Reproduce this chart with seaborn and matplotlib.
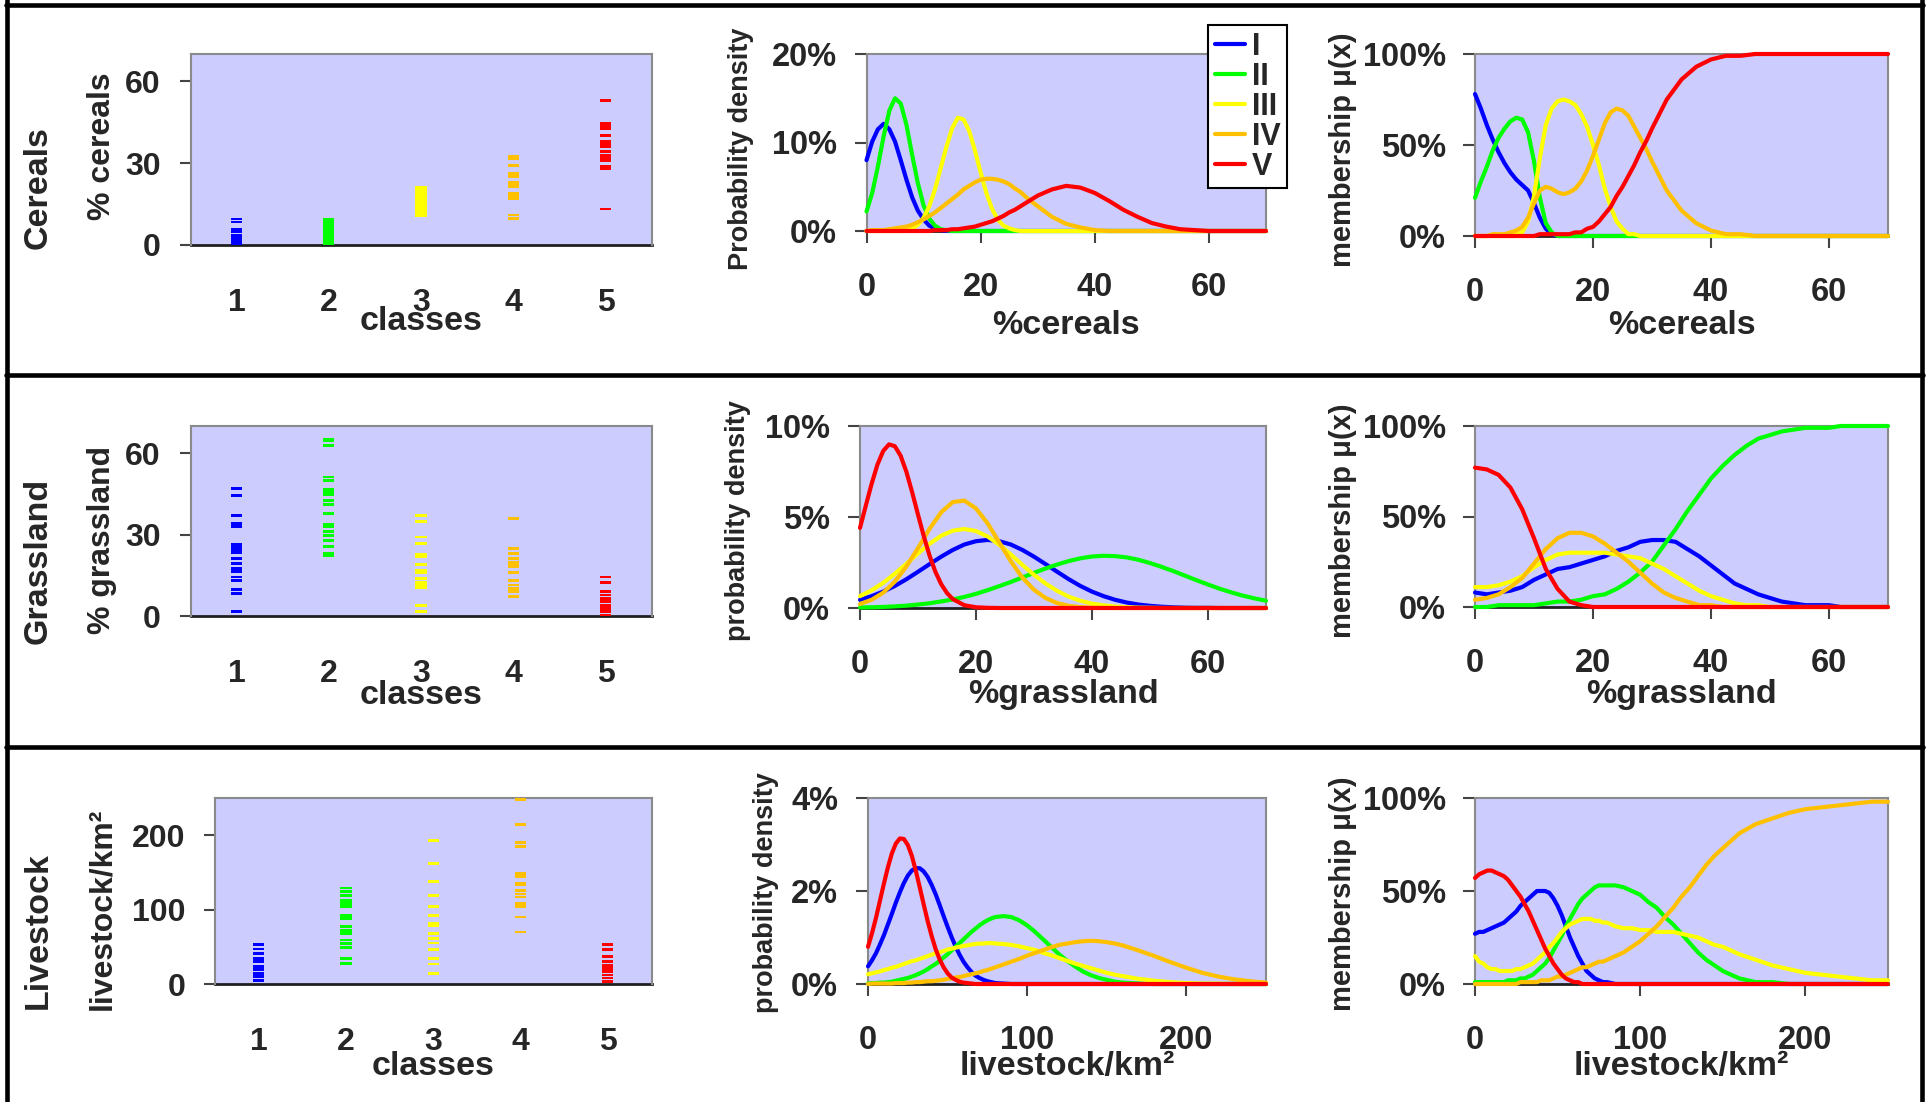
import pandas as pd
import matplotlib
matplotlib.use("Agg")
import matplotlib.pyplot as plt
import matplotlib.transforms as mtransforms
from matplotlib.lines import Line2D
from matplotlib.ticker import FuncFormatter
import seaborn as sns

sns.set_theme(style="ticks")
plt.rcParams['font.family'] = ['Liberation Sans', 'DejaVu Sans']
plt.rcParams['font.weight'] = 'bold'

W, H = 1927, 1102

# ------------------------------------------------------------------ data
class_names = ['I', 'II', 'III', 'IV', 'V']
class_ticks = ['1', '2', '3', '4', '5']
colors = ['#0000ff', '#00ff00', '#ffff00', '#ffc000', '#ff0000']

# raw observations per class (strip plots)
cereals = [
    [0.2, 0.6, 0.9, 1.4, 1.8, 2.3, 2.8, 3.7, 4.9, 5.8, 8.4, 9.5],
    [0.4, 0.9, 1.5, 2.2, 2.8, 3.4, 4.0, 4.6, 5.1, 5.7, 6.3, 6.9, 7.5, 8.1, 8.7, 9.3],
    [10.7, 11.4, 12.2, 13.0, 13.8, 14.6, 15.4, 16.1, 16.9, 17.7, 18.5, 19.3, 20.2, 21.1],
    [9.8, 11.0, 16.9, 18.1, 19.0, 21.5, 22.3, 22.8, 25.1, 26.3, 29.1, 31.5, 32.5],
    [13.2, 27.9, 28.8, 31.0, 31.8, 32.8, 34.3, 36.1, 37.1, 37.9, 40.0, 42.7, 43.8, 44.7, 53.0],
]
grassland = [
    [1.6, 8.3, 9.9, 13.2, 14.4, 16.3, 17.5, 19.3, 21.2, 23.3, 24.5, 25.5, 26.4, 33.0, 34.0, 37.1, 44.4, 46.9],
    [22.4, 23.0, 25.5, 27.7, 29.7, 31.2, 32.8, 33.8, 37.7, 41.1, 42.6, 44.8, 45.7, 46.5, 49.9, 51.2, 62.8, 64.6, 65.2],
    [1.6, 4.0, 10.5, 11.3, 12.2, 13.8, 15.9, 16.9, 19.0, 21.8, 22.8, 26.7, 29.1, 34.9, 37.1],
    [7.1, 8.9, 10.2, 11.4, 13.2, 15.9, 18.1, 18.7, 19.6, 21.2, 23.0, 24.8, 35.9],
    [0.4, 1.6, 2.8, 4.0, 5.3, 6.5, 7.7, 8.9, 12.2, 14.4],
]
livestock = [
    [4.5, 10, 14, 19, 23, 30, 34, 41, 47, 53],
    [28, 34, 49, 54, 59, 68, 72, 77, 88, 92, 104, 108, 112, 119, 124, 129],
    [14, 27, 34, 46, 55, 61, 68, 79, 82, 92, 104, 119, 138, 162, 193],
    [70, 90, 104, 108, 117, 121, 126, 133, 135, 144, 148, 185, 190, 214, 248],
    [3, 8, 12, 17, 21, 25, 30, 37, 46, 53],
]

# x positions at which the curves were read
x_cer = [0, 1, 2, 3, 4, 5, 6, 7, 8, 9, 10, 11, 12, 13, 14, 15, 16, 17, 18, 19, 20,
         21, 22, 23, 24, 25, 26, 27, 28, 29, 30, 32.5, 35, 37.5, 40, 42.5, 45, 47.5,
         50, 52.5, 55, 57.5, 60, 62.5, 65, 67.5, 70]
x_gra = [0, 2, 4, 6, 8, 10, 12, 14, 16, 18, 20, 22, 24, 26, 28, 30, 32, 34, 36, 38,
         40, 42, 44, 46, 48, 50, 52, 54, 56, 58, 60, 62, 64, 66, 68, 70]
x_gra_v = [0, 1, 2, 3, 4, 5, 6, 7, 8, 9, 10, 11, 12, 13, 14, 15, 16, 18, 20, 22, 24, 70]
x_liv = [0, 2.5, 5, 7.5, 10, 12.5, 15, 17.5, 20, 22.5, 25, 27.5, 30, 32.5, 35, 37.5,
         40, 42.5, 45, 47.5, 50, 52.5, 55, 57.5, 60, 62.5, 65, 67.5, 70, 72.5, 75, 77.5,
         80, 85, 90, 95, 100, 105, 110, 115, 120, 125, 130, 135, 140, 145, 150, 155, 160,
         170, 180, 190, 200, 210, 220, 230, 240, 250]

# probability density (%) — cereals
cer_d1 = [8.0, 10.1, 11.5, 12.1, 11.5, 10.1, 8.0, 5.8, 3.8, 2.3, 1.3, 0.6, 0.3, 0.1, 0, 0,
          0, 0, 0, 0, 0, 0, 0, 0, 0, 0, 0, 0, 0, 0, 0, 0, 0, 0, 0, 0, 0, 0, 0, 0, 0, 0,
          0, 0, 0, 0, 0]
cer_d2 = [2.2, 4.3, 7.3, 10.7, 13.6, 15.0, 14.4, 12.0, 8.6, 5.4, 2.9, 1.4, 0.6, 0.2, 0.1,
          0, 0, 0, 0, 0, 0, 0, 0, 0, 0, 0, 0, 0, 0, 0, 0, 0, 0, 0, 0, 0, 0, 0, 0, 0, 0,
          0, 0, 0, 0, 0, 0]
cer_d3 = [0, 0, 0, 0, 0, 0, 0, 0.1, 0.3, 0.7, 1.5, 2.8, 4.7, 7.1, 9.5, 11.6, 12.8, 12.6,
          11.3, 9.1, 6.6, 4.3, 2.5, 1.3, 0.6, 0.3, 0.1, 0, 0, 0, 0, 0, 0, 0, 0, 0, 0, 0,
          0, 0, 0, 0, 0, 0, 0, 0, 0]
cer_d4 = [0, 0.1, 0.1, 0.1, 0.2, 0.3, 0.4, 0.5, 0.7, 1.0, 1.3, 1.7, 2.1, 2.6, 3.1, 3.6,
          4.1, 4.7, 5.1, 5.5, 5.8, 5.9, 5.9, 5.8, 5.6, 5.3, 4.8, 4.4, 3.8, 3.3, 2.8, 1.6,
          0.8, 0.4, 0.1, 0, 0, 0, 0, 0, 0, 0, 0, 0, 0, 0, 0]
cer_d5 = [0, 0, 0, 0, 0, 0, 0, 0, 0, 0, 0, 0, 0.1, 0.1, 0.1, 0.2, 0.2, 0.3, 0.4, 0.5,
          0.7, 0.9, 1.1, 1.4, 1.7, 2.1, 2.4, 2.8, 3.2, 3.6, 4.0, 4.7, 5.1, 4.9, 4.3, 3.4,
          2.4, 1.6, 0.9, 0.5, 0.2, 0.1, 0, 0, 0, 0, 0]

# membership (%) — cereals
cer_m1 = [78, 70, 61, 53, 46, 40, 35, 31, 28, 25, 18, 10, 4, 1, 0, 0, 0, 0, 0, 0, 0, 0,
          0, 0, 0, 0, 0, 0, 0, 0, 0, 0, 0, 0, 0, 0, 0, 0, 0, 0, 0, 0, 0, 0, 0, 0, 0]
cer_m2 = [21, 30, 38, 47, 54, 59, 63, 65, 64, 57, 41, 21, 7, 2, 0, 0, 0, 0, 0, 0, 0, 0,
          0, 0, 0, 0, 0, 0, 0, 0, 0, 0, 0, 0, 0, 0, 0, 0, 0, 0, 0, 0, 0, 0, 0, 0, 0]
cer_m3 = [0, 0, 0, 0, 0, 0, 0, 1, 2, 8, 22, 43, 61, 70, 74, 75, 74, 72, 67, 60, 50, 39,
          26, 16, 8, 4, 1, 1, 0, 0, 0, 0, 0, 0, 0, 0, 0, 0, 0, 0, 0, 0, 0, 0, 0, 0, 0]
cer_m4 = [0, 0, 0, 1, 1, 1, 2, 3, 5, 10, 18, 25, 27, 26, 24, 23, 24, 26, 30, 36, 44, 53,
          62, 68, 70, 69, 66, 60, 54, 48, 41, 25, 14, 7, 3, 1, 1, 0, 0, 0, 0, 0, 0, 0, 0,
          0, 0]
cer_m5 = [0, 0, 0, 0, 0, 0, 0, 0, 0, 0, 0, 1, 1, 1, 1, 1, 1, 2, 2, 4, 5, 8, 12, 16, 22,
          27, 33, 39, 46, 52, 59, 75, 86, 93, 97, 99, 99, 100, 100, 100, 100, 100, 100,
          100, 100, 100, 100]

# probability density (%) — grassland
gra_d1 = [0.45, 0.65, 0.90, 1.21, 1.58, 1.99, 2.41, 2.82, 3.19, 3.49, 3.67, 3.74, 3.67,
          3.49, 3.19, 2.82, 2.41, 1.99, 1.58, 1.21, 0.90, 0.65, 0.45, 0.30, 0.19, 0.12,
          0.07, 0.04, 0.02, 0.01, 0.01, 0, 0, 0, 0, 0]
gra_d2 = [0.03, 0.04, 0.06, 0.09, 0.13, 0.19, 0.26, 0.36, 0.47, 0.61, 0.78, 0.98, 1.20,
          1.43, 1.68, 1.93, 2.17, 2.39, 2.58, 2.73, 2.83, 2.87, 2.85, 2.78, 2.65, 2.47,
          2.26, 2.03, 1.78, 1.53, 1.29, 1.06, 0.86, 0.68, 0.53, 0.40]
gra_d3 = [0.65, 0.97, 1.38, 1.88, 2.43, 3.00, 3.53, 3.97, 4.25, 4.34, 4.23, 3.93, 3.48,
          2.94, 2.37, 1.82, 1.34, 0.94, 0.62, 0.40, 0.24, 0.14, 0.08, 0.04, 0.02, 0.01,
          0, 0, 0, 0, 0, 0, 0, 0, 0, 0]
gra_d4 = [0.22, 0.45, 0.84, 1.45, 2.28, 3.29, 4.35, 5.26, 5.82, 5.90, 5.47, 4.65, 3.61,
          2.57, 1.67, 1.00, 0.55, 0.27, 0.12, 0.05, 0.02, 0.01, 0, 0, 0, 0, 0, 0, 0, 0,
          0, 0, 0, 0, 0, 0]
gra_d5 = [4.40, 5.62, 6.82, 7.87, 8.63, 8.99, 8.89, 8.37, 7.48, 6.35, 5.13, 3.94, 2.87,
          1.99, 1.31, 0.82, 0.49, 0.15, 0.04, 0.01, 0, 0]

# membership (%) — grassland
gra_m1 = [8, 7, 8, 9, 11, 15, 18, 21, 22, 24, 26, 28, 31, 33, 36, 37, 37, 36, 32, 28, 23,
          18, 13, 10, 7, 5, 3, 2, 1, 1, 1, 0, 0, 0, 0, 0]
gra_m2 = [0, 0, 1, 1, 1, 1, 2, 3, 3, 4, 6, 7, 10, 14, 19, 25, 34, 43, 53, 62, 71, 78, 84,
          89, 93, 95, 97, 98, 99, 99, 99, 100, 100, 100, 100, 100]
gra_m3 = [11, 11, 12, 14, 17, 22, 26, 29, 30, 30, 30, 30, 29, 28, 27, 24, 21, 17, 13, 9,
          6, 4, 2, 1, 1, 0, 0, 0, 0, 0, 0, 0, 0, 0, 0, 0]
gra_m4 = [4, 5, 7, 11, 16, 24, 32, 38, 41, 41, 39, 35, 30, 25, 19, 13, 8, 5, 3, 1, 1, 0,
          0, 0, 0, 0, 0, 0, 0, 0, 0, 0, 0, 0, 0, 0]
gra_m5 = [77, 76, 73, 66, 54, 38, 21, 10, 3, 1, 0, 0, 0, 0, 0, 0, 0, 0, 0, 0, 0, 0, 0, 0,
          0, 0, 0, 0, 0, 0, 0, 0, 0, 0, 0, 0]

# probability density (%) — livestock
liv_d1 = [0.38, 0.51, 0.66, 0.85, 1.05, 1.28, 1.51, 1.75, 1.97, 2.17, 2.33, 2.44, 2.49,
          2.49, 2.42, 2.30, 2.13, 1.93, 1.70, 1.46, 1.23, 1.01, 0.81, 0.63, 0.48, 0.36,
          0.26, 0.18, 0.13, 0.09, 0.06, 0.04, 0.02, 0.01, 0, 0, 0, 0, 0, 0, 0, 0, 0, 0,
          0, 0, 0, 0, 0, 0, 0, 0, 0, 0, 0, 0, 0, 0]
liv_d2 = [0.01, 0.02, 0.02, 0.03, 0.03, 0.04, 0.05, 0.07, 0.09, 0.11, 0.13, 0.16, 0.19,
          0.23, 0.27, 0.32, 0.38, 0.43, 0.50, 0.57, 0.64, 0.72, 0.80, 0.88, 0.96, 1.04,
          1.12, 1.19, 1.26, 1.32, 1.37, 1.41, 1.44, 1.46, 1.44, 1.37, 1.26, 1.12, 0.96,
          0.80, 0.64, 0.50, 0.38, 0.27, 0.19, 0.13, 0.09, 0.05, 0.03, 0.01, 0, 0, 0, 0,
          0, 0, 0, 0]
liv_d3 = [0.21, 0.23, 0.25, 0.27, 0.30, 0.32, 0.35, 0.37, 0.40, 0.43, 0.46, 0.49, 0.51,
          0.54, 0.57, 0.60, 0.63, 0.66, 0.68, 0.71, 0.74, 0.76, 0.78, 0.80, 0.82, 0.83,
          0.85, 0.86, 0.87, 0.87, 0.88, 0.88, 0.87, 0.86, 0.84, 0.81, 0.77, 0.73, 0.67,
          0.62, 0.56, 0.50, 0.44, 0.39, 0.34, 0.29, 0.24, 0.20, 0.17, 0.11, 0.07, 0.04,
          0.02, 0.01, 0.01, 0, 0, 0]
liv_d4 = [0, 0.01, 0.01, 0.01, 0.01, 0.01, 0.01, 0.02, 0.02, 0.02, 0.03, 0.03, 0.04,
          0.04, 0.05, 0.06, 0.06, 0.07, 0.08, 0.09, 0.11, 0.12, 0.14, 0.15, 0.17, 0.19,
          0.21, 0.23, 0.25, 0.28, 0.30, 0.33, 0.36, 0.42, 0.48, 0.54, 0.61, 0.67, 0.73,
          0.79, 0.84, 0.87, 0.90, 0.92, 0.93, 0.92, 0.90, 0.87, 0.83, 0.72, 0.60, 0.47,
          0.35, 0.24, 0.16, 0.10, 0.06, 0.03]
liv_d5 = [0.80, 1.09, 1.42, 1.79, 2.16, 2.51, 2.81, 3.02, 3.13, 3.12, 2.99, 2.76, 2.44,
          2.08, 1.71, 1.35, 1.03, 0.75, 0.53, 0.36, 0.23, 0.14, 0.09, 0.05, 0.03, 0.02,
          0.01, 0, 0, 0, 0, 0, 0, 0, 0, 0, 0, 0, 0, 0, 0, 0, 0, 0, 0, 0, 0, 0, 0, 0, 0,
          0, 0, 0, 0, 0, 0, 0]

# membership (%) — livestock
liv_m1 = [27, 28, 28, 29, 30, 31, 32, 33, 35, 37, 39, 42, 44, 46, 48, 50, 50, 50, 49, 46,
          42, 37, 31, 25, 20, 15, 11, 7, 5, 3, 2, 1, 1, 0, 0, 0, 0, 0, 0, 0, 0, 0, 0, 0,
          0, 0, 0, 0, 0, 0, 0, 0, 0, 0, 0, 0, 0, 0]
liv_m2 = [1, 1, 1, 1, 1, 1, 1, 1, 2, 2, 2, 3, 3, 4, 5, 7, 9, 11, 14, 18, 22, 26, 31, 35,
          39, 43, 46, 48, 50, 52, 53, 53, 53, 53, 52, 50, 48, 44, 41, 36, 32, 27, 22, 17,
          13, 10, 7, 5, 3, 1, 1, 0, 0, 0, 0, 0, 0, 0]
liv_m3 = [15, 12, 11, 9, 8, 8, 7, 7, 7, 7, 8, 8, 9, 10, 11, 13, 15, 17, 20, 22, 25, 28,
          30, 32, 33, 34, 35, 35, 35, 34, 34, 33, 33, 31, 30, 30, 29, 29, 28, 28, 28, 27,
          26, 25, 23, 21, 20, 18, 16, 13, 10, 8, 6, 5, 4, 3, 2, 2]
liv_m4 = [0, 0, 0, 0, 0, 0, 0, 0, 0, 0, 0, 1, 1, 1, 1, 1, 2, 2, 2, 3, 4, 4, 5, 6, 7, 8, 9,
          9, 10, 11, 12, 12, 13, 15, 17, 20, 23, 27, 31, 36, 41, 47, 52, 58, 64, 69, 73,
          77, 81, 86, 89, 92, 94, 95, 96, 97, 98, 98]
liv_m5 = [57, 59, 60, 61, 61, 60, 59, 58, 56, 53, 50, 47, 43, 39, 34, 29, 24, 19, 15, 11,
          8, 5, 3, 2, 1, 1, 0, 0, 0, 0, 0, 0, 0, 0, 0, 0, 0, 0, 0, 0, 0, 0, 0, 0, 0, 0, 0,
          0, 0, 0, 0, 0, 0, 0, 0, 0, 0, 0]


# ------------------------------------------------------------------ helpers
fig = plt.figure(figsize=(W / 100, H / 100), dpi=100)
BG = '#ccccff'


def px_rect(l, t, r, b):
    return [l / W, 1 - b / H, (r - l) / W, (b - t) / H]


def style_axes(ax):
    ax.set_facecolor(BG)
    for sp in ['left', 'top', 'right']:
        ax.spines[sp].set_color('#8a8a8a')
        ax.spines[sp].set_linewidth(1.5)
    ax.spines['bottom'].set_color('#202020')
    ax.spines['bottom'].set_linewidth(2)
    ax.spines['bottom'].set_zorder(0.5)


def set_xlabel_px(ax, text, base_y, fs):
    ax.set_xlabel(text, fontsize=fs, fontweight='bold', va='baseline')
    tr = mtransforms.blended_transform_factory(ax.transAxes, fig.transFigure)
    ax.xaxis.set_label_coords(0.5, 1 - base_y / H, transform=tr)


def set_ylabel_px(ax, text, xc, yc, fs):
    ax.set_ylabel(text, fontsize=fs, fontweight='bold', va='center', ha='center')
    ax.yaxis.set_label_coords(xc / W, 1 - yc / H, transform=fig.transFigure)


def curves_frame(xs_list, ys_list):
    recs = []
    for k, (xs, ys) in enumerate(zip(xs_list, ys_list)):
        for x, y in zip(xs, ys):
            recs.append((x, y, class_names[k]))
    return pd.DataFrame(recs, columns=['x', 'y', 'cls'])


marker_dash = [(-1, -0.25), (1, -0.25), (1, 0.25), (-1, 0.25)]
pct = FuncFormatter(lambda v, p: f"{v:g}%")

rows = [
    dict(name='Cereals', rl_y=188, strip=cereals, slab='% cereals', sylim=70, syt=[0, 30, 60],
         srect=(190.5, 54, 651.5, 245), sxbase=330, syc=146,
         dx=[x_cer] * 5, dy=[cer_d1, cer_d2, cer_d3, cer_d4, cer_d5],
         mx=[x_cer] * 5, my=[cer_m1, cer_m2, cer_m3, cer_m4, cer_m5],
         xlim=70, xt=[0, 20, 40, 60], xlab='%cereals',
         drect=(866.5, 54, 1266, 231), dylim=20, dyt=[0, 10, 20], dlab='Probability density',
         dxc=741, dyc=149, mrect=(1475, 54, 1888, 236), mxc=1343, myc=150, xbase=334),
    dict(name='Grassland', rl_y=561, strip=grassland, slab='% grassland', sylim=70, syt=[0, 30, 60],
         srect=(190.5, 426, 651.5, 616), sxbase=704, syc=540,
         dx=[x_gra, x_gra, x_gra, x_gra, x_gra_v], dy=[gra_d1, gra_d2, gra_d3, gra_d4, gra_d5],
         mx=[x_gra] * 5, my=[gra_m1, gra_m2, gra_m3, gra_m4, gra_m5],
         xlim=70, xt=[0, 20, 40, 60], xlab='%grassland',
         drect=(860, 426, 1266, 608), dylim=10, dyt=[0, 5, 10], dlab='probability density',
         dxc=738, dyc=521, mrect=(1475, 426, 1888, 607), mxc=1343, myc=521, xbase=703),
    dict(name='Livestock', rl_y=931, strip=livestock, slab='livestock/km²', sylim=250, syt=[0, 100, 200],
         srect=(215, 798, 651.5, 984), sxbase=1075, syc=909,
         dx=[x_liv] * 5, dy=[liv_d1, liv_d2, liv_d3, liv_d4, liv_d5],
         mx=[x_liv] * 5, my=[liv_m1, liv_m2, liv_m3, liv_m4, liv_m5],
         xlim=250, xt=[0, 100, 200], xlab='livestock/km²',
         drect=(868, 798, 1266, 984), dylim=4, dyt=[0, 2, 4], dlab='probability density',
         dxc=766, dyc=893, mrect=(1475, 798, 1888, 984), mxc=1343, myc=894, xbase=1075),
]

for r in rows:
    # --- observations by class
    ax = fig.add_axes(px_rect(*r['srect']))
    recs = [(class_ticks[k], v) for k, vals in enumerate(r['strip']) for v in vals]
    df = pd.DataFrame(recs, columns=['cls', 'val'])
    sns.stripplot(data=df, x='cls', y='val', hue='cls', order=class_ticks, hue_order=class_ticks,
                  palette=colors, jitter=False, marker=marker_dash, size=8, linewidth=0,
                  legend=False, ax=ax, zorder=3)
    style_axes(ax)
    ax.set_xlim(-0.5, 4.5)
    ax.set_ylim(0, r['sylim'])
    ax.set_yticks(r['syt'])
    ax.tick_params(axis='x', length=0, pad=31, labelsize=23)
    ax.tick_params(axis='y', length=8, width=1.5, color='#444444', pad=13.5, labelsize=23, left=True)
    set_xlabel_px(ax, 'classes', r['sxbase'], 24.5)
    set_ylabel_px(ax, r['slab'], 102, r['syc'], 23)
    fig.text(38 / W, 1 - r['rl_y'] / H, r['name'], rotation=90, ha='center', va='center',
             fontsize=24.5, fontweight='bold')

    # --- probability density
    axd = fig.add_axes(px_rect(*r['drect']))
    sns.lineplot(data=curves_frame(r['dx'], r['dy']), x='x', y='y', hue='cls',
                 hue_order=class_names, palette=colors, estimator=None, linewidth=3,
                 legend=False, ax=axd, clip_on=False, zorder=3)
    style_axes(axd)
    axd.set_xlim(0, r['xlim'])
    axd.set_ylim(0, r['dylim'])
    axd.set_xticks(r['xt'])
    axd.set_yticks(r['dyt'])
    axd.yaxis.set_major_formatter(pct)
    axd.tick_params(axis='both', length=8.5, width=1.5, color='#444444', labelsize=23.5,
                    bottom=True, left=True)
    axd.tick_params(axis='x', pad=21)
    axd.tick_params(axis='y', pad=13)
    set_xlabel_px(axd, r['xlab'], r['xbase'], 24.5)
    set_ylabel_px(axd, r['dlab'], r['dxc'], r['dyc'], 19.5)

    # --- membership
    axm = fig.add_axes(px_rect(*r['mrect']))
    sns.lineplot(data=curves_frame(r['mx'], r['my']), x='x', y='y', hue='cls',
                 hue_order=class_names, palette=colors, estimator=None, linewidth=3,
                 legend=False, ax=axm, clip_on=False, zorder=3)
    style_axes(axm)
    axm.set_xlim(0, r['xlim'])
    axm.set_ylim(0, 100)
    axm.set_xticks(r['xt'])
    axm.set_yticks([0, 50, 100])
    axm.yaxis.set_major_formatter(pct)
    axm.tick_params(axis='both', length=8.5, width=1.5, color='#444444', labelsize=23.5,
                    bottom=True, left=True)
    axm.tick_params(axis='x', pad=21)
    axm.tick_params(axis='y', pad=12.5)
    set_xlabel_px(axm, r['xlab'], r['xbase'], 24.5)
    set_ylabel_px(axm, 'membership μ(x)', r['mxc'], r['myc'], 21)

    if r['name'] == 'Cereals':
        handles = [Line2D([], [], color=c, lw=3) for c in colors]
        leg = axd.legend(handles, class_names, loc='upper right',
                         bbox_to_anchor=(1287 / W, 1 - 25 / H), bbox_transform=fig.transFigure,
                         frameon=True, fancybox=False, framealpha=1, edgecolor='black',
                         fontsize=22, labelspacing=0.0, handlelength=1.0, handletextpad=0.2,
                         borderpad=0.22, borderaxespad=0)
        leg.get_frame().set_linewidth(1.5)
        for t in leg.get_texts():
            t.set_fontweight('bold')

# panel frame lines
for (x0, y0, x1, y1) in [(6, 4.5, 1923, 4.5), (7, 0, 7, H), (1922, 0, 1922, H),
                         (6, 375, 1923, 375), (6, 746.5, 1923, 746.5)]:
    fig.add_artist(Line2D([x0 / W, x1 / W], [1 - y0 / H, 1 - y1 / H], color='black', lw=3.3,
                          transform=fig.transFigure))

fig.savefig('out.png', dpi=100)
